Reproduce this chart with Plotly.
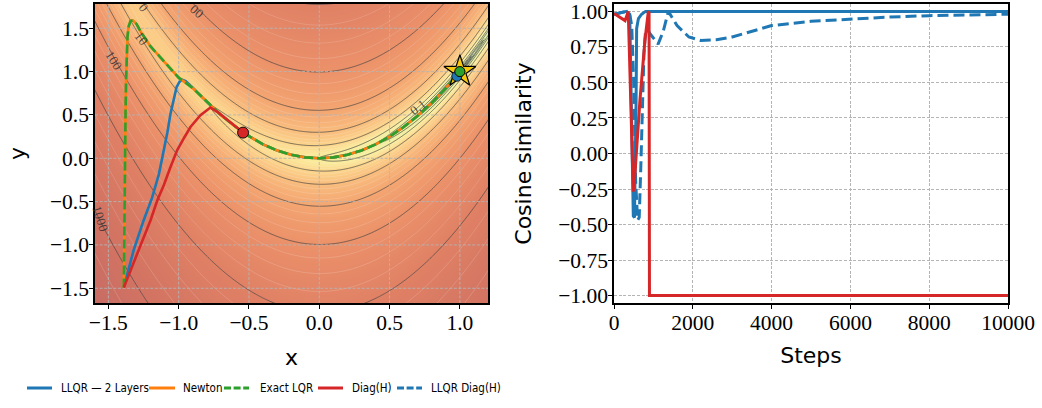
import numpy as np
import plotly.graph_objects as go

# ---------------------------------------------------------------------------
# Rosenbrock landscape f(x, y) = (a - x)^2 + b (y - x^2)^2
# ---------------------------------------------------------------------------
ROSEN_A = 1.0
ROSEN_B = 100.0
X_RANGE = [-1.595, 1.2]
Y_RANGE = [-1.67, 1.78]
LOG_LEVEL_START, LOG_LEVEL_END, LOG_LEVEL_STEP = -3.0, 3.0, 0.5   # black contour lines
FILL_LEVEL_STEP = 0.125                                          # faint filled-band edges

# labelled contour values and where they sit
contour_label_text = ["100", "10", "1000", "0.1", "0", "00"]
contour_label_x = [-1.46, -1.265, -1.555, 0.70, -1.25, -0.87]
contour_label_y = [1.13, 1.385, -0.69, 0.585, 1.735, 1.69]
contour_label_angle = [57, 52, 72, -38, 52, 40]

# ---------------------------------------------------------------------------
# optimiser trajectories on the landscape
# ---------------------------------------------------------------------------
newton_x = [-1.39, -1.388, -1.385, -1.382, -1.378, -1.374, -1.37, -1.364, -1.356, -1.342,
            -1.325, -1.30, -1.27, -1.20, -1.10, -1.00, -0.90, -0.80, -0.70, -0.60,
            -0.50, -0.40, -0.30, -0.20, -0.10, 0.00, 0.10, 0.20, 0.30, 0.40,
            0.50, 0.60, 0.70, 0.80, 0.90, 1.00]
newton_y = [-1.49, -1.00, -0.50, 0.00, 0.50, 0.90, 1.20, 1.40, 1.52, 1.585,
            1.59, 1.55, 1.46, 1.29, 1.11, 0.93, 0.81, 0.65, 0.50, 0.37,
            0.255, 0.16, 0.09, 0.04, 0.01, 0.00, 0.01, 0.04, 0.09, 0.16,
            0.25, 0.36, 0.49, 0.64, 0.81, 1.00]
# the exact LQR iterates coincide with Newton's
exact_lqr_x = list(newton_x)
exact_lqr_y = list(newton_y)

llqr_x = [-1.39, -1.36, -1.32, -1.25, -1.19, -1.14, -1.106, -1.08, -1.058, -1.035,
          -1.015, -0.995, -0.975, -0.95, -0.90, -0.80, -0.70, -0.60, -0.50, -0.40,
          -0.30, -0.20, -0.10, 0.00, 0.10, 0.20, 0.30, 0.40, 0.50, 0.60,
          0.70, 0.80, 0.90, 0.978]
llqr_y = [-1.49, -1.30, -1.06, -0.72, -0.46, -0.18, 0.09, 0.30, 0.515, 0.70,
          0.82, 0.88, 0.905, 0.89, 0.815, 0.65, 0.50, 0.37, 0.255, 0.16,
          0.09, 0.04, 0.01, 0.00, 0.01, 0.04, 0.09, 0.16, 0.25, 0.36,
          0.49, 0.64, 0.81, 0.946]

diag_x = [-1.39, -1.34, -1.295, -1.25, -1.20, -1.153, -1.106, -1.06, -1.011, -0.96,
          -0.916, -0.845, -0.774, -0.72, -0.68, -0.609, -0.542]
diag_y = [-1.49, -1.28, -1.10, -0.91, -0.715, -0.49, -0.311, -0.11, 0.092, 0.24,
          0.361, 0.496, 0.585, 0.53, 0.476, 0.381, 0.296]

optimum = (1.0, 1.0)

# ---------------------------------------------------------------------------
# cosine similarity against the Newton direction over training steps
# ---------------------------------------------------------------------------
steps_llqr = [0, 150, 320, 400, 430, 460, 490, 520, 545, 560, 575, 620, 700, 800, 10000]
cos_llqr = [0.98, 0.99, 1.00, 0.97, 0.50, -0.20, -0.44, -0.45, -0.10, 0.35, 0.88, 0.95, 0.98, 1.00, 1.00]

steps_diag = [0, 280, 362, 405, 447, 489, 530, 573, 658, 785, 869, 890, 900, 10000]
cos_diag = [0.985, 0.935, 1.00, 0.61, 0.14, -0.268, -0.15, 0.024, 0.374, 0.795, 0.993, 0.99, -1.00, -1.00]

steps_llqr_diag = [0, 320, 400, 450, 500, 550, 600, 640, 680, 720, 760, 800, 850, 950,
                   1050, 1120, 1250, 1380, 1600, 1900, 2200, 2600, 3000, 3500, 4000,
                   5000, 6000, 7000, 8000, 9000, 10000]
cos_llqr_diag = [0.98, 1.00, 0.98, 0.90, 0.50, -0.20, -0.47, -0.45, -0.10, 0.30, 0.70, 0.86, 0.87, 0.83,
                 0.79, 0.77, 0.86, 1.00, 0.90, 0.82, 0.795, 0.80, 0.82, 0.86, 0.90,
                 0.93, 0.947, 0.96, 0.97, 0.975, 0.98]

# ---------------------------------------------------------------------------
# ticks
# ---------------------------------------------------------------------------
x_ticks = [-1.5, -1.0, -0.5, 0.0, 0.5, 1.0]
y_ticks = [-1.5, -1.0, -0.5, 0.0, 0.5, 1.0, 1.5]
step_ticks = [0, 2000, 4000, 6000, 8000, 10000]
cos_ticks = [-1.0, -0.75, -0.5, -0.25, 0.0, 0.25, 0.5, 0.75, 1.0]

# legend entries (shared by both panels)
legend_names = ["LLQR — 2 Layers", "Newton", "Exact LQR", "Diag(H)", "LLQR Diag(H)"]

# ---------------------------------------------------------------------------
# styling
# ---------------------------------------------------------------------------
BLUE, ORANGE, GREEN, RED = "#1f77b4", "#ff7f0e", "#2ca02c", "#d62728"
GRID_COLOR = "#b4b4b4"
GRID_DASH = "3px,1.6px"
TICK_FONT = dict(family="Liberation Serif, Times New Roman, serif", size=21.5, color="black")
TITLE_FONT = dict(family="DejaVu Sans, sans-serif", size=22, color="black")
LEGEND_FONT = dict(family="DejaVu Sans Condensed, Liberation Sans Narrow, Arial Narrow, sans-serif",
                   size=11.5, color="black")

legend_colors = [BLUE, ORANGE, GREEN, RED, BLUE]
legend_dashes = ["solid", "solid", "7px,2.6px", "solid", "7px,2.6px"]
legend_line_px = [(27, 52), (149, 175), (224, 249), (318, 343), (397, 422)]
legend_text_px = [59, 181, 258, 350, 429]
LEGEND_Y_PX = 388

# log-value colour ramp for the landscape
landscape_colorscale = [
    [0.000, "rgb(178,222,122)"],
    [0.317, "rgb(222,241,148)"],
    [0.476, "rgb(250,238,156)"],
    [0.556, "rgb(252,214,140)"],
    [0.635, "rgb(249,190,126)"],
    [0.714, "rgb(244,166,113)"],
    [0.794, "rgb(236,146,106)"],
    [0.873, "rgb(224,129,101)"],
    [0.952, "rgb(210,115,99)"],
    [1.000, "rgb(198,107,100)"],
]
Z_MIN, Z_MAX = -3.0, 3.3

# figure geometry (pixels)
W, H = 1042, 408
M_L, M_R, M_T, M_B = 95, 34, 4, 105
inner_w = W - M_L - M_R
inner_h = H - M_T - M_B
left_dom = [0.0, (488 - M_L) / inner_w]
right_dom = [(614 - M_L) / inner_w, 1.0]


def px_to_paper_x(px):
    return (px - M_L) / inner_w


def px_to_paper_y(py):
    return (H - M_B - py) / inner_h


# ---------------------------------------------------------------------------
# landscape field
# ---------------------------------------------------------------------------
gx = np.linspace(X_RANGE[0] - 0.02, X_RANGE[1] + 0.02, 420)
gy = np.linspace(Y_RANGE[0] - 0.02, Y_RANGE[1] + 0.02, 420)
GX, GY = np.meshgrid(gx, gy)
F = (ROSEN_A - GX) ** 2 + ROSEN_B * (GY - GX ** 2) ** 2
logF = np.log10(np.maximum(F, 1e-4))

fig = go.Figure()

fig.add_trace(go.Heatmap(
    x=gx, y=gy, z=logF, colorscale=landscape_colorscale, zmin=Z_MIN, zmax=Z_MAX,
    zsmooth="best", showscale=False, showlegend=False, hoverinfo="skip", xaxis="x", yaxis="y"))

fig.add_trace(go.Contour(
    x=gx, y=gy, z=logF, showscale=False, showlegend=False, hoverinfo="skip",
    contours=dict(start=Z_MIN, end=Z_MAX, size=FILL_LEVEL_STEP, coloring="none"),
    line=dict(color="rgba(255,255,255,0.28)", width=0.6, smoothing=1),
    xaxis="x", yaxis="y"))

fig.add_trace(go.Contour(
    x=gx, y=gy, z=logF, showscale=False, showlegend=False, hoverinfo="skip",
    contours=dict(start=LOG_LEVEL_START, end=LOG_LEVEL_END, size=LOG_LEVEL_STEP, coloring="none"),
    line=dict(color="rgba(40,40,40,0.6)", width=1.0, smoothing=1),
    xaxis="x", yaxis="y"))

# dashed grid drawn over the landscape but under the trajectories
grid_x, grid_y = [], []
for t in x_ticks:
    grid_x += [t, t, None]
    grid_y += [Y_RANGE[0], Y_RANGE[1], None]
for t in y_ticks:
    grid_x += [X_RANGE[0], X_RANGE[1], None]
    grid_y += [t, t, None]
fig.add_trace(go.Scatter(
    x=grid_x, y=grid_y, mode="lines", showlegend=False, hoverinfo="skip",
    line=dict(color=GRID_COLOR, width=0.9, dash=GRID_DASH), xaxis="x", yaxis="y"))

# trajectories
fig.add_trace(go.Scatter(x=llqr_x, y=llqr_y, mode="lines", name=legend_names[0],
                         line=dict(color=BLUE, width=2.6), xaxis="x", yaxis="y"))
fig.add_trace(go.Scatter(x=newton_x, y=newton_y, mode="lines", name=legend_names[1],
                         line=dict(color=ORANGE, width=2.6), xaxis="x", yaxis="y"))
fig.add_trace(go.Scatter(x=exact_lqr_x, y=exact_lqr_y, mode="lines", name=legend_names[2],
                         line=dict(color=GREEN, width=2.6, dash="9px,4px"), xaxis="x", yaxis="y"))
fig.add_trace(go.Scatter(x=diag_x, y=diag_y, mode="lines", name=legend_names[3],
                         line=dict(color=RED, width=2.6), xaxis="x", yaxis="y"))

# end points
fig.add_trace(go.Scatter(x=[optimum[0]], y=[optimum[1]], mode="markers",
                         marker=dict(symbol="star", size=24, color="#f8c810",
                                     line=dict(color="black", width=1.2)), xaxis="x", yaxis="y"))
fig.add_trace(go.Scatter(x=[llqr_x[-1]], y=[llqr_y[-1]], mode="markers",
                         marker=dict(size=10, color=BLUE, line=dict(color="black", width=0.8)),
                         xaxis="x", yaxis="y"))
fig.add_trace(go.Scatter(x=[newton_x[-1]], y=[newton_y[-1]], mode="markers",
                         marker=dict(size=10, color=ORANGE, line=dict(color="black", width=0.8)),
                         xaxis="x", yaxis="y"))
fig.add_trace(go.Scatter(x=[exact_lqr_x[-1]], y=[exact_lqr_y[-1]], mode="markers",
                         marker=dict(size=10, color=GREEN, line=dict(color="black", width=0.8)),
                         xaxis="x", yaxis="y"))
fig.add_trace(go.Scatter(x=[diag_x[-1]], y=[diag_y[-1]], mode="markers",
                         marker=dict(size=11, color=RED, line=dict(color="black", width=0.9)),
                         xaxis="x", yaxis="y"))

# cosine similarity panel
fig.add_trace(go.Scatter(x=steps_llqr_diag, y=cos_llqr_diag, mode="lines", name=legend_names[4],
                         line=dict(color=BLUE, width=3, dash="11px,5px"), xaxis="x2", yaxis="y2"))
fig.add_trace(go.Scatter(x=steps_llqr, y=cos_llqr, mode="lines", name=legend_names[0],
                         line=dict(color=BLUE, width=3), xaxis="x2", yaxis="y2"))
fig.add_trace(go.Scatter(x=steps_diag, y=cos_diag, mode="lines", name=legend_names[3],
                         line=dict(color=RED, width=3), xaxis="x2", yaxis="y2"))

# contour labels
for txt, lx, ly, ang in zip(contour_label_text, contour_label_x, contour_label_y, contour_label_angle):
    fig.add_annotation(x=lx, y=ly, xref="x", yref="y", text=txt, showarrow=False, textangle=ang,
                       font=dict(family="Liberation Serif, serif", size=13, color="rgba(50,50,50,0.85)"))

# shared legend row below both panels
ly_paper = px_to_paper_y(LEGEND_Y_PX)
for name, col, dash, (x0, x1), tx in zip(legend_names, legend_colors, legend_dashes,
                                          legend_line_px, legend_text_px):
    fig.add_shape(type="line", xref="paper", yref="paper",
                  x0=px_to_paper_x(x0), x1=px_to_paper_x(x1), y0=ly_paper, y1=ly_paper,
                  line=dict(color=col, width=3, dash=dash))
    fig.add_annotation(xref="paper", yref="paper", x=px_to_paper_x(tx), y=ly_paper,
                       xanchor="left", yanchor="middle", text=name, showarrow=False,
                       font=LEGEND_FONT)

axis_common = dict(showline=True, mirror=True, linecolor="black", linewidth=1.6,
                   ticks="outside", ticklen=4, tickwidth=1.2, tickcolor="black",
                   tickfont=TICK_FONT, zeroline=False, title_font=TITLE_FONT,
                   automargin=False, ticklabeloverflow="allow")

fig.update_layout(
    width=W, height=H, margin=dict(l=M_L, r=M_R, t=M_T, b=M_B, autoexpand=False),
    paper_bgcolor="white", plot_bgcolor="white", showlegend=False,
    xaxis=dict(domain=left_dom, range=X_RANGE, tickvals=x_ticks, tickformat=".1f",
               showgrid=False, anchor="y", ticklabelstandoff=-5,
               title=dict(text="x", standoff=16), **axis_common),
    yaxis=dict(domain=[0, 1], range=Y_RANGE, tickvals=y_ticks, tickformat=".1f",
               showgrid=False, anchor="x", ticklabelstandoff=-4,
               title=dict(text="y", standoff=18), **axis_common),
    xaxis2=dict(domain=right_dom, range=[0, 10000], tickvals=step_ticks, tickformat="d",
                showgrid=True, gridcolor=GRID_COLOR, gridwidth=0.9, griddash=GRID_DASH,
                anchor="y2", ticklabelstandoff=-5,
                title=dict(text="Steps", standoff=14), **axis_common),
    yaxis2=dict(domain=[0, 1], range=[-1.052, 1.052], tickvals=cos_ticks, tickformat=".2f",
                showgrid=True, gridcolor=GRID_COLOR, gridwidth=0.9, griddash=GRID_DASH,
                anchor="x2", ticklabelstandoff=-4,
                title=dict(text="Cosine similarity", standoff=20), **axis_common),
)

fig.write_html("out.html")
